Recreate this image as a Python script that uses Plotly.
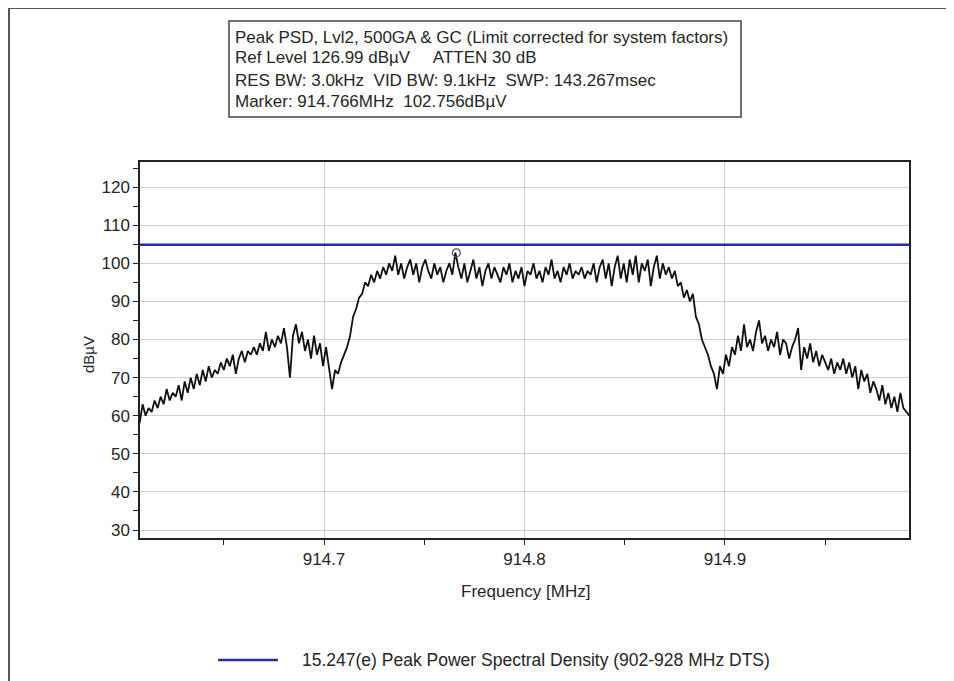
import numpy as np
import plotly.graph_objects as go

# ---- data ----
f_start = 914.608      # MHz
f_step = 0.0015        # MHz per sweep point
psd_dbuv = [
    58, 63, 60, 62, 61, 64, 62, 65, 63, 67, 64, 66, 65, 68, 64, 69, 66, 70, 67, 71,
    68, 72, 69, 73, 70, 72, 71, 74, 72, 75, 73, 76, 71, 75, 77, 74, 77, 76, 78, 76,
    79, 77, 82, 77, 80, 78, 81, 79, 83, 78, 70, 81, 84, 79, 82, 77, 80, 75, 81, 76,
    79, 73, 78, 72, 67, 72, 71, 74, 76, 78, 81, 86, 88, 91, 92, 95, 94, 97, 95, 98,
    96, 99, 97, 100, 98, 102, 97,
    100, 96, 99, 101, 97, 100, 95, 99, 101, 98, 96, 100, 97, 99,
    95, 98, 100, 97, 102.8, 99, 96, 100, 95, 98, 101, 96, 99, 94,
    98, 100, 96, 99, 97, 95, 99, 97, 100, 95, 98, 96, 99, 94, 98, 97,
    100, 96, 98, 95, 99, 97, 101, 96, 98, 95, 99, 97, 100, 96, 98, 97,
    99, 96, 98, 97, 100, 95, 99, 101, 96, 100, 94, 99, 102, 96, 100, 95,
    101, 97, 102, 95, 100, 98, 101, 94, 99, 102, 96, 100, 97, 99,
    96, 98, 94, 95, 91, 93, 90, 92, 86, 84, 80, 78, 76, 73, 71, 67,
    73, 71, 76, 73, 78, 76, 81, 77, 84, 78, 80, 77, 82, 85, 79, 81, 77, 80,
    78, 82, 76, 80, 79, 75, 78, 80, 83, 72, 78, 75, 79, 74, 77, 73, 76, 74,
    72, 75, 71, 74, 72, 75, 71, 74, 70, 73, 67, 72, 69, 71, 66, 69, 67, 64,
    68, 63, 66, 62, 65, 61, 66, 62, 61, 60,
]
freq_mhz = f_start + f_step * np.arange(len(psd_dbuv))

limit_dbuv = 104.9
marker_freq = 914.766
marker_level = 102.756

x_range = [914.6082, 914.9918]
y_range = [27.9, 126.6]

header_lines = [
    "Peak PSD, Lvl2, 500GA & GC (Limit corrected for system factors)",
    "Ref Level 126.99 dBµV     ATTEN 30 dB",
    "RES BW: 3.0kHz  VID BW: 9.1kHz  SWP: 143.267msec",
    "Marker: 914.766MHz  102.756dBµV",
]
legend_text = "15.247(e) Peak Power Spectral Density (902-928 MHz DTS)"
x_title = "Frequency [MHz]"
y_title = "dBµV"

FONT = "Liberation Sans, Arial, sans-serif"
LIMIT_COLOR = "#2b2ba6"
TXT = "#262626"

# page offset (browser body margin) compensation
OFF = 8
W, H = 954 - OFF, 681 - OFF
L, R, B = 140 - OFF, 45, 143
T = 162 - OFF
pw, ph = W - L - R, H - T - B


def px(xpage):
    return (xpage - OFF - L) / pw


def py(ypage):
    return (H - B - (ypage - OFF)) / ph


fig = go.Figure()
fig.add_trace(go.Scatter(
    x=freq_mhz, y=psd_dbuv, mode="lines",
    line=dict(color="#111111", width=1.8), showlegend=False, hoverinfo="skip"))
fig.add_trace(go.Scatter(
    x=x_range, y=[limit_dbuv, limit_dbuv], mode="lines",
    line=dict(color=LIMIT_COLOR, width=2.5), showlegend=False))
fig.add_trace(go.Scatter(
    x=[marker_freq], y=[marker_level], mode="markers",
    marker=dict(symbol="circle-open", size=8, color="#555555", line=dict(width=1.2)),
    showlegend=False))

fig.update_layout(
    width=W, height=H,
    margin=dict(l=L, r=R, t=T, b=B, pad=0),
    paper_bgcolor="white", plot_bgcolor="white",
    font=dict(family=FONT, size=17, color=TXT),
    xaxis=dict(range=x_range, tick0=914.7, dtick=0.1, tickformat=".1f",
               showgrid=True, gridcolor="#cfcfcf", gridwidth=1,
               showline=True, linecolor="#222222", linewidth=1.5, mirror=True,
               ticks="outside", ticklen=5, tickcolor="#222222",
               minor=dict(dtick=0.05, tick0=914.7, ticks="outside", ticklen=5,
                          tickcolor="#222222", showgrid=False),
               zeroline=False, tickfont=dict(size=17)),
    yaxis=dict(range=y_range, tick0=0, dtick=10,
               showgrid=True, gridcolor="#cfcfcf", gridwidth=1,
               showline=True, linecolor="#222222", linewidth=1.5, mirror=True,
               ticks="outside", ticklen=5, tickcolor="#222222",
               minor=dict(dtick=5, ticks="outside", ticklen=5,
                          tickcolor="#222222", showgrid=False),
               zeroline=False, tickfont=dict(size=17)),
)

shapes = []
# outer frame (top and left)
shapes.append(dict(type="line", xref="paper", yref="paper",
                   x0=px(8), x1=px(954), y0=py(8), y1=py(8),
                   line=dict(color="#555555", width=2)))
shapes.append(dict(type="line", xref="paper", yref="paper",
                   x0=px(9), x1=px(9), y0=py(8), y1=py(681),
                   line=dict(color="#555555", width=2)))
# header box
shapes.append(dict(type="rect", xref="paper", yref="paper",
                   x0=px(229), x1=px(741), y0=py(21), y1=py(117),
                   line=dict(color="#444444", width=1.5), fillcolor="white"))
# legend line
shapes.append(dict(type="line", xref="paper", yref="paper",
                   x0=px(218), x1=px(278), y0=py(660), y1=py(660),
                   line=dict(color=LIMIT_COLOR, width=2.5)))
fig.update_layout(shapes=shapes)

ann = []
for line, yy in zip(header_lines, [37, 58, 80, 101]):
    ann.append(dict(text=line, xref="paper", yref="paper", x=px(233), y=py(yy),
                    xanchor="left", yanchor="middle", showarrow=False,
                    font=dict(size=17, family=FONT, color=TXT)))
ann.append(dict(text=legend_text, xref="paper", yref="paper", x=px(300), y=py(660),
                xanchor="left", yanchor="middle", showarrow=False,
                font=dict(size=17.5, family=FONT, color=TXT)))
ann.append(dict(text=x_title, xref="paper", yref="paper", x=px(525), y=py(591),
                xanchor="center", yanchor="middle", showarrow=False,
                font=dict(size=17, family=FONT, color=TXT)))
ann.append(dict(text=y_title, xref="paper", yref="paper", x=px(88), y=py(355),
                xanchor="center", yanchor="middle", showarrow=False, textangle=-90,
                font=dict(size=15, family=FONT, color=TXT)))
fig.update_layout(annotations=ann)

fig.write_html("out.html")
